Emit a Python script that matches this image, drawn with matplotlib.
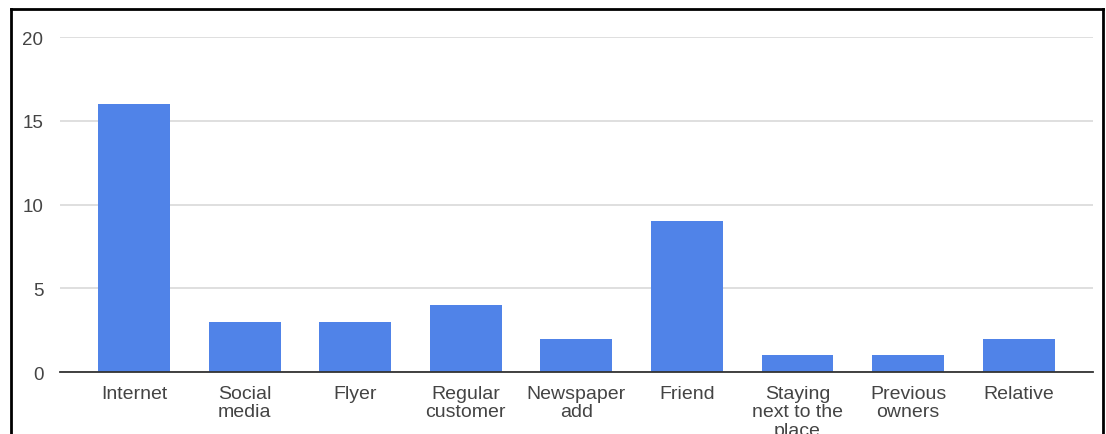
import matplotlib
matplotlib.use("Agg")
import matplotlib.pyplot as plt
from matplotlib.lines import Line2D

categories = ["Internet", "Social\nmedia", "Flyer", "Regular\ncustomer", "Newspaper\nadd",
              "Friend", "Staying\nnext to the\nplace", "Previous\nowners", "Relative"]
counts = [16, 3, 3, 4, 2, 9, 1, 1, 2]
yticks = [0, 5, 10, 15, 20]

plt.rcParams['font.family'] = ['Liberation Sans', 'DejaVu Sans']

fig = plt.figure(figsize=(11.06, 4.35), dpi=100)
ax = fig.add_axes([0.0543, 0.1425, 0.9337, 0.7701])

x = list(range(len(categories)))
ax.bar(x, counts, width=0.65, color='#5083e8', zorder=3)

ax.set_xlim(-0.67, len(categories) - 0.33)
ax.set_ylim(0, 20)
ax.set_yticks(yticks)
ax.set_xticks(x)
ax.set_xticklabels(categories, linespacing=1.12, fontsize=14)
ax.tick_params(axis='both', length=0, labelsize=13.5, colors='#444444')
ax.tick_params(axis='x', pad=9, labelsize=14)
ax.tick_params(axis='y', pad=12)
ax.grid(axis='y', color='#dcdcdc', linewidth=1.3, zorder=0)

for s in ['top', 'right', 'left']:
    ax.spines[s].set_visible(False)
ax.spines['bottom'].set_color('#333333')
ax.spines['bottom'].set_linewidth(1.3)
ax.spines['bottom'].set_zorder(4)

# black frame around the screenshot (bottom edge is cut off)
W, H = 1106, 435
x0, x1, y0 = 11 / W, 1103 / W, 1 - 10 / H
for xs, ys in [([x0, x0], [0, y0]), ([x0, x1], [y0, y0]), ([x1, x1], [y0, 0])]:
    fig.add_artist(Line2D(xs, ys, color='black', linewidth=2, transform=fig.transFigure))

fig.savefig("out.png", dpi=100)
